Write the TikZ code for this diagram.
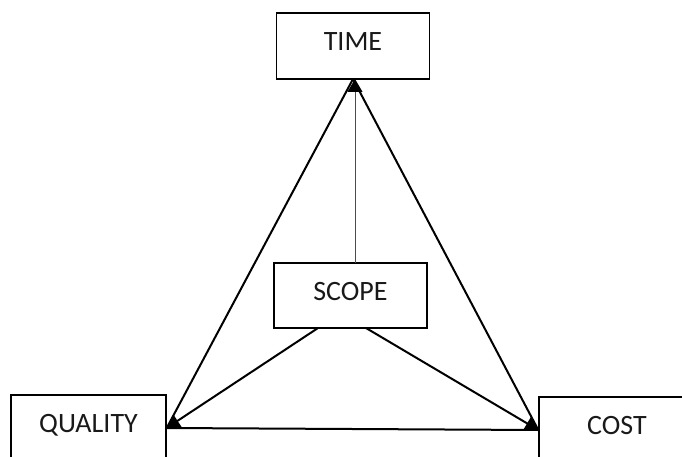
\documentclass[tikz,border=0pt]{standalone}
\usepackage{fontspec}
\setmainfont{Carlito}
\usetikzlibrary{arrows.meta}
\begin{document}
\begin{tikzpicture}[x=1pt,y=-1pt,
  box/.style={draw=black,line width=1.4pt,minimum width=153pt,minimum height=66pt,
    inner sep=0pt,text height=18pt,text depth=9pt,
    font=\fontsize{28}{32}\selectfont,text=black!90},
  edge/.style={draw=black,line width=2pt},
  head/.style={-{Triangle[length=13pt,width=15pt,color=black]}}]
\useasboundingbox (0,0) rectangle (682,457);
\clip (0,0) rectangle (682,457);
% the four constraint boxes
\node[box] (time) at (353,46) {TIME};
\node[box,minimum height=65pt] (scope) at (350.5,295.5) {SCOPE};
\node[box,minimum width=155pt] (quality) at (88.5,428) {QUALITY};
\node[box,minimum width=156pt] (cost) at (617,430) {COST};
% attachment points on the boxes
\coordinate (apex) at (353,79);
\coordinate (sl) at (318,328);
\coordinate (sr) at (366,328);
\coordinate (stop) at (355,263);
\coordinate (ttop) at (355,79);
% outer triangle
\draw[edge] (apex) -- (quality.east);
\draw[edge] (apex) -- (cost.west);
\draw[edge] (quality.east) -- (cost.west);
% scope links
\draw[black!70,line width=1pt,head] (stop) -- (ttop);
\draw[edge,head] (sl) -- (quality.east);
\draw[edge,head] (sr) -- (cost.west);
\end{tikzpicture}
\end{document}
